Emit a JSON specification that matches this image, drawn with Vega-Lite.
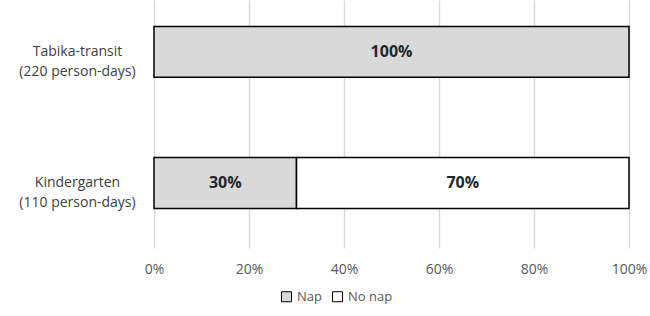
{
  "$schema": "https://vega.github.io/schema/vega-lite/v6.json",
  "width": 475,
  "height": 248,
  "autosize": "none",
  "padding": {"left": 154, "top": 0, "right": 21, "bottom": 68},
  "background": "white",
  "config": {
    "view": {"stroke": null},
    "font": "Open Sans"
  },
  "data": {
    "values": [
      {"group": "Tabika-transit|(220 person-days)", "type": "Nap", "share": 1.0},
      {"group": "Kindergarten|(110 person-days)", "type": "Nap", "share": 0.3},
      {"group": "Kindergarten|(110 person-days)", "type": "No nap", "share": 0.7}
    ]
  },
  "encoding": {
    "y": {
      "field": "group",
      "type": "nominal",
      "sort": ["Tabika-transit|(220 person-days)", "Kindergarten|(110 person-days)"],
      "scale": {"paddingInner": 0.611, "paddingOuter": 0.252, "align": 0.4},
      "axis": {
        "title": null,
        "domain": false,
        "ticks": false,
        "labelPadding": 77,
        "labelAlign": "center",
        "labelBaseline": "middle",
        "labelExpr": "split(datum.label, '|')",
        "labelFont": "Open Sans",
        "labelFontSize": 14,
        "labelColor": "#404040",
        "labelLineHeight": 20
      }
    }
  },
  "layer": [
    {
      "mark": {"type": "bar", "stroke": "#000000", "strokeWidth": 1.5},
      "encoding": {
        "x": {
          "field": "share",
          "type": "quantitative",
          "stack": "zero",
          "scale": {"domain": [0, 1], "nice": false},
          "axis": {
            "title": null,
            "format": ".0%",
            "values": [0, 0.2, 0.4, 0.6, 0.8, 1],
            "domain": false,
            "ticks": false,
            "grid": true,
            "gridColor": "#d9d9d9",
            "gridWidth": 1.5,
            "labelPadding": 14,
            "labelFont": "Open Sans",
            "labelFontSize": 14,
            "labelColor": "#595959",
            "labelFlush": false
          }
        },
        "color": {
          "field": "type",
          "type": "nominal",
          "scale": {"domain": ["Nap", "No nap"], "range": ["#d9d9d9", "#ffffff"]},
          "legend": {
            "title": null,
            "orient": "none",
            "legendX": 126,
            "legendY": 290,
            "direction": "horizontal",
            "symbolType": "square",
            "symbolSize": 100,
            "symbolStrokeColor": "#000000",
            "symbolStrokeWidth": 1,
            "symbolOpacity": 1,
            "labelFont": "Open Sans",
            "labelFontSize": 13,
            "labelColor": "#595959",
            "columnPadding": 8,
            "labelOffset": 4
          }
        }
      }
    },
    {
      "transform": [
        {"stack": "share", "groupby": ["group"], "sort": [{"field": "type", "order": "ascending"}], "as": ["s0", "s1"]},
        {"calculate": "(datum.s0 + datum.s1) / 2", "as": "mid"}
      ],
      "mark": {"type": "text", "font": "Open Sans", "fontSize": 16, "fontWeight": "bold", "color": "#262626", "baseline": "middle", "align": "center"},
      "encoding": {
        "x": {"field": "mid", "type": "quantitative"},
        "text": {"field": "share", "type": "quantitative", "format": ".0%"}
      }
    }
  ]
}
